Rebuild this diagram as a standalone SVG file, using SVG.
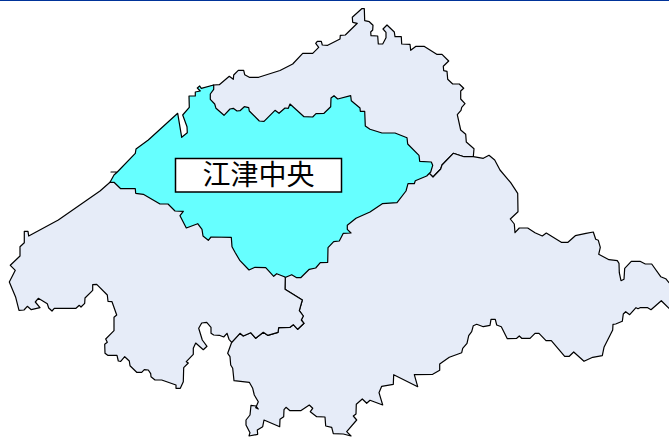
<svg xmlns="http://www.w3.org/2000/svg" width="669" height="437" viewBox="0 0 669 437">
<style>
.r{fill:#e6ecf8;stroke:#000;stroke-width:1.2;stroke-linejoin:round}
.c{fill:#66ffff}
.t{font-family:"Noto Sans CJK JP","Noto Sans CJK SC",sans-serif;font-size:28px;fill:#000;text-anchor:middle}
</style>
<rect width="669" height="437" fill="#fff"/>
<rect width="669" height="1" fill="#003399"/>
<g id="north"><polygon class="r" points="213.7,85 219.3,84.7 229.3,76.3 233.3,79.3 233.7,75 238.3,70.3 243.7,70.3 244.7,74.7 249.3,77.3 258.7,77.3 280,70.5 292.7,64 302.7,53.3 312.7,53.3 318.7,47.3 315.7,43.3 317.3,41.3 321.3,41.3 322.3,45 327.7,45.3 340,39 340.3,35.3 345.3,35 357.3,23.3 352.7,22.3 352.3,17.3 361.7,8.7 364.3,8.7 364.7,20.7 369.3,21.7 373,25.3 372.7,30 370.7,32 371,35.7 377.7,36 378.3,44 382.7,44 386,37.7 386,32.3 383,29 387,25 394.3,32 395,36.7 401.3,36.7 401.7,44 410,44.3 410.7,50.3 416,46.3 424,46.3 436.7,54.3 442,54.3 448.7,61 443.3,66.3 443.7,70.7 447,71.3 447.7,79.3 452.7,84 459.3,84 463.7,88.3 460.7,91 460.7,99 465,103.7 461.7,107.3 461,110.3 457.3,114.7 460.7,130 465.7,134.3 466.3,142 474,148.7 473.3,156.7 464,156.7 453.3,153.3 442,165 440.7,169 433,177 429.3,173.3 350,170 200,170 200,100 205,89"/></g>
<g id="east"><polygon class="r" points="433,177 440.7,169 442,165 453.3,153.3 464,156.7 473.3,156.7 483.3,158.3 489,155.3 494.7,160 500,170 510.7,182.7 517.7,193.3 518,211.7 510.3,219 514.3,224 515,232.7 519.3,228 527.7,228 535,232.7 542.3,236 546.3,233 561.3,242.3 568,242.3 575.3,235.7 586,233.3 593.3,232 595.7,239.3 598.3,240.3 600.3,247.3 598.7,254.3 609,259.7 617.3,260.7 619,263.3 619.3,272.7 621,280.7 624,279.3 624.7,268.3 631.3,261.3 640,261.3 645.3,264 651.7,264 660.7,276.7 665.7,278.7 669,282.7 670,283 670,309 669,308.3 661.3,300.7 651,309.7 647.7,307.7 640,307.7 638,308.7 636,307.7 629.7,314.7 625.7,311.7 623.3,314 622.3,321.3 615.7,324 613,324.3 612.7,330 604,347.3 602.3,355.7 592.7,357.3 584,361.3 573.7,352 569.3,356.3 564.7,356.3 551.3,340.7 546,340.7 539,333.3 535,333.3 530,338.3 521.7,338.3 519.3,336 516.7,338.3 507.3,338.7 501.3,326.7 496.7,325 495.3,319.3 491,319.3 490,325.3 483.3,326.7 476.7,324.3 473.3,325.7 471.7,331.7 468.7,335.7 467,343.3 462.7,348.3 461.7,352.7 449.3,357.3 439.7,364 439.7,370.3 432.7,374.3 414.3,374.7 417.7,386.7 393.7,374.7 393.3,384.3 381.7,386.3 379,392.7 382.7,405 370,400.3 366.7,403.3 362.3,399 356.3,404.3 356,414 353.3,416 356.7,420 346.7,431.7 351,436 343.3,434 333.3,433.7 331.7,427.3 325.7,426 325,417 316.7,416.7 310.3,411.7 312.7,408.3 309.3,405 300.7,410.7 290,410.7 286,407.3 284,409.7 283.7,416.7 280,419.3 279.7,426.7 264,420 262.7,426.7 257.3,430 257.7,434.3 249,436 250,432.7 246,425 246,420 250,415 251,405.3 256,406 258.3,409 255.7,407.7 258.3,401.7 254.3,395 252.7,388.3 249.3,382.3 234,380.7 232.7,368.3 230.7,365 230,356.7 227.7,353.3 231.7,342.3 240,333.3 243.3,336 250.7,332.7 255.7,338.3 263.3,332.3 267.7,335.3 278,332.3 278.7,327.7 290,327.3 293.3,324.7 297.7,329.3 304,323.3 301.3,320 303.3,316 299.3,310.7 302.3,300 285,289.3 285.3,277.3 300,260 400,170 429.3,173.3"/></g>
<g id="southwest"><polygon class="r" points="110,182.3 100,191 58.3,220 28.7,236 28,231.3 24.3,231.3 24.3,242.7 20,246.7 20,256 10.3,265.3 15.3,270.3 9.3,282 15.7,297.3 19,310.3 24,310 27.3,306.3 31.3,309.7 40,307.7 35.3,302 38.3,298.3 47.3,303.7 48.7,308 52,311 54.3,308.3 76,308.3 79.3,305.3 81,307 84.7,303.3 85,298 92.7,290.3 92.7,284.7 96.7,284.3 107.3,295 108,301.3 112,301.7 116.7,315 114,317.3 114,330.7 105.7,339 107.3,342.3 104.7,344.3 105,353.3 107.7,355.3 117,355.3 118.3,361 120.7,361.3 124.7,356.7 129.3,361 130,365.7 136.7,372.3 141.7,372.3 144.3,369.7 148.3,370 150.7,373.7 151,376.7 155,380 161.7,380 176,385 176,388.3 180.3,388.3 183.3,381.7 183.7,367.7 188.3,363 186.3,361.7 193.3,354.3 193.3,348.3 195.7,343 203.3,349.7 207,346.3 202.3,340 198.7,328.3 201.7,323 206.7,322.3 211,327.3 211,333.3 213.7,335 219.3,335.3 223.7,337 227,333.3 229,339.3 231.7,342.3 240,333.3 243.3,336 250.7,332.7 255.7,338.3 263.3,332.3 267.7,335.3 278,332.3 278.7,327.7 290,327.3 293.3,324.7 297.7,329.3 304,323.3 301.3,320 303.3,316 299.3,310.7 302.3,300 285,289.3 285.3,277.3 270,260 200,200 130,170"/></g>
<g id="jiangjin-chuo"><polygon class="r c" points="110,182.3 114,175 117.3,172 111,172 117.3,172 135.3,153.3 136,149 148.3,140 177.7,113.3 181.7,137.3 187.3,132.7 187,126.7 182.7,115 189.3,107.3 189,96 195.3,96 195.3,92 200.3,91 197.3,88 199.7,86 201.3,88.3 213.7,85 213.7,89.3 210.3,94 210.3,99.3 214.7,104 216,108.3 224,115.3 230,109 233.3,108.3 237,111 240,110.7 244.3,106.7 248.7,107.7 249.3,111 259.3,121 264,121.3 275,110.3 279,113.3 285,108 288.3,108.3 290,104 304,116.7 312.7,117 316,113.7 324,113.3 330.7,106.7 331,98 334,95.7 337.7,99 350.7,95.7 351.3,100.7 360,108 360.3,111.3 364.7,111.3 365.3,126 370,129.3 382,133 395,133 407,137.7 407.7,144 419,155.3 419.7,161.3 431.3,162 432.7,165.3 430.7,172 426.7,176 415.3,180.7 414.3,183.7 408,183.7 406,191 397,202.7 382.3,203.7 370,212 356,218.3 347.3,225.3 347.3,229.3 351,233 343.3,233.3 339.3,241 333.7,241.7 328,247.7 327.7,262.3 320.3,262.7 315.7,268 309.3,269.3 300.7,277.7 296.7,277.7 291.7,274.7 285.7,277.3 276.7,273.7 273.7,276.3 265.7,267.7 255,267.3 249,270 240,260.7 235,252.3 232,246.7 231.3,237.3 211,237 208.3,240.3 203,236 202,229.3 197.7,223.7 186.3,228 180,215.7 183.3,211.3 175,211 168,204 160,204 143.3,194.3 135.7,193.3 135.3,188.7 120.7,188.7 114,182.3"/>
<rect x="175.5" y="158.5" width="166" height="33.5" fill="#fff" stroke="#000" stroke-width="1.5"/>
<text class="t" x="258.5" y="185">江津中央</text></g>
</svg>
